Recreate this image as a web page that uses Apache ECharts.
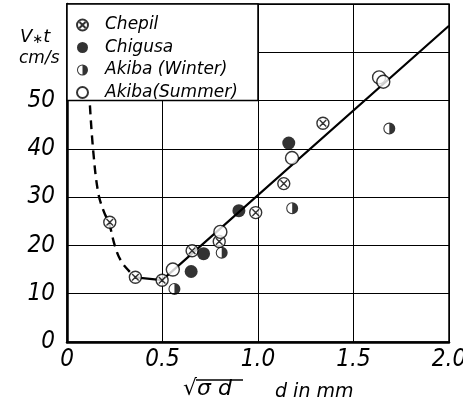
<!DOCTYPE html>
<html>
<head>
<meta charset="utf-8">
<script src="https://cdn.jsdelivr.net/npm/echarts@6/dist/echarts.min.js"></script>
<style>html,body{margin:0;padding:0;background:#fff}#c{width:463px;height:406px}</style>
</head>
<body>
<div id="c"></div>
<script>
// ---- data ----
const seriesNames = ['Chepil', 'Chigusa', 'Akiba (Winter)', 'Akiba(Summer)'];
const chepil  = [[0.224,24.8],[0.358,13.4],[0.498,12.8],[0.655,18.9],[0.797,20.8],[0.988,26.8],[1.135,32.8],[1.34,45.3]];
const chigusa = [[0.65,14.6],[0.715,18.3],[0.90,27.2],[1.161,41.2]];
const winter  = [[0.5625,11.0],[0.81,18.5],[1.179,27.7],[1.6875,44.2]];
const summer  = [[0.554,15.0],[0.803,22.8],[1.178,38.1],[1.634,54.8],[1.656,53.9]];
const dashedCurve = [[0.12,49],[0.137,39.7],[0.163,31],[0.19,27.3],[0.222,24.3],[0.25,20],[0.28,17],[0.32,14.9],[0.358,13.4]];
const solidLine = [[0.358,13.4],[0.498,12.8],[2.0,65.5]];
const xTickLabels = {0:'0', 0.5:'0.5', 1:'1.0', 1.5:'1.5', 2:'2.0'};
const yTickLabels = {0:'0',10:'10',20:'20',30:'30',40:'40',50:'50',60:'',70:''};

const numFont = '"Liberation Sans Narrow","DejaVu Sans Condensed",sans-serif';
const txtFont = '"DejaVu Sans",sans-serif';

const chepilSym = 'path://M0,10A10,10,0,1,1,20,10A10,10,0,1,1,0,10ZM4.5,4.5L15.5,15.5M15.5,4.5L4.5,15.5';
const winterSym = 'path://M0,10A10,10,0,1,1,20,10A10,10,0,1,1,0,10ZM10,1.8A8.2,8.2,0,0,0,10,18.2L10,1.8Z';

const chart = echarts.init(document.getElementById('c'));
chart.setOption({
  animation: false,
  backgroundColor: '#fff',
  grid: {left: 67, right: 14, top: 4, bottom: 64, show: true, borderColor: '#000', borderWidth: 1.5,
         containLabel: false, outerBoundsMode: 'none'},
  xAxis: {
    type: 'value', min: 0, max: 2, interval: 0.5,
    axisLine: {show: true, onZero: false, lineStyle: {color: '#000', width: 2.5}},
    axisTick: {show: false},
    splitLine: {show: true, lineStyle: {color: '#000', width: 1}},
    axisLabel: {formatter: v => xTickLabels[v], color: '#000', fontFamily: numFont, fontStyle: 'italic', fontSize: 24, margin: 6}
  },
  yAxis: {
    type: 'value', min: 0, max: 70, interval: 10,
    axisLine: {show: true, onZero: false, lineStyle: {color: '#000', width: 2.5}},
    axisTick: {show: false},
    splitLine: {show: true, lineStyle: {color: '#000', width: 1}},
    axisLabel: {formatter: v => yTickLabels[v], color: '#000', fontFamily: numFont, fontStyle: 'italic', fontSize: 24, margin: 12}
  },
  legend: {
    data: seriesNames, orient: 'vertical', left: 76, top: 15, padding: 0, itemGap: 2.5,
    itemWidth: 11, itemHeight: 11, z: 10, selectedMode: false,
    textStyle: {fontFamily: txtFont, fontStyle: 'italic', fontSize: 17, color: '#000', lineHeight: 20, padding: [0,0,0,12]}
  },
  series: [
    {name: 'dash', type: 'line', data: dashedCurve, smooth: 0.4, symbol: 'none', z: 3,
     lineStyle: {color: '#000', width: 2.4, type: [9,6]}},
    {name: 'solid', type: 'line', data: solidLine, symbol: 'none', z: 3,
     lineStyle: {color: '#000', width: 2.2}},
    {name: seriesNames[0], type: 'scatter', data: chepil, symbol: chepilSym, symbolSize: 12, z: 4,
     itemStyle: {color: '#fff', borderColor: '#000', borderWidth: 1.4}},
    {name: seriesNames[1], type: 'scatter', data: chigusa, symbol: 'circle', symbolSize: 13, z: 4,
     itemStyle: {color: '#000'}},
    {name: seriesNames[2], type: 'scatter', data: winter, symbol: winterSym, symbolSize: 12, z: 4,
     itemStyle: {color: '#000', borderWidth: 0}},
    {name: seriesNames[3], type: 'scatter', data: summer, symbol: 'circle', symbolSize: 13, z: 4,
     itemStyle: {color: '#fff', borderColor: '#000', borderWidth: 1.4}}
  ]
});

const p0 = chart.convertToPixel({gridIndex: 0}, [0, 70]);
const p1 = chart.convertToPixel({gridIndex: 0}, [1.0, 50]);
chart.setOption({
  graphic: [
    {type: 'rect', z: 5, shape: {x: p0[0], y: p0[1], width: p1[0]-p0[0], height: p1[1]-p0[1]},
     style: {fill: '#fff', stroke: '#000', lineWidth: 1.5}},
    {type: 'text', z: 6, left: 20, top: 28,
     style: {text: '{v|V}{s|∗}{v|t}', rich: {
       v: {fontFamily: txtFont, fontStyle: 'italic', fontSize: 18, fill: '#000'},
       s: {fontFamily: txtFont, fontSize: 13, fill: '#000', padding: [6,0,0,0]}}}},
    {type: 'text', z: 6, left: 19, top: 50,
     style: {text: 'cm/s', fontFamily: txtFont, fontStyle: 'italic', fontSize: 17, fill: '#000'}},
    {type: 'text', z: 6, left: 183, top: 378,
     style: {text: '√σ d', fontFamily: txtFont, fontStyle: 'italic', fontSize: 22, fill: '#000'}},
    {type: 'line', z: 6, shape: {x1: 196, y1: 380, x2: 243, y2: 380}, style: {stroke: '#000', lineWidth: 1.3}},
    {type: 'text', z: 6, left: 275, top: 383,
     style: {text: 'd in mm', fontFamily: txtFont, fontStyle: 'italic', fontSize: 19, fill: '#000'}}
  ]
});
</script>
</body>
</html>
